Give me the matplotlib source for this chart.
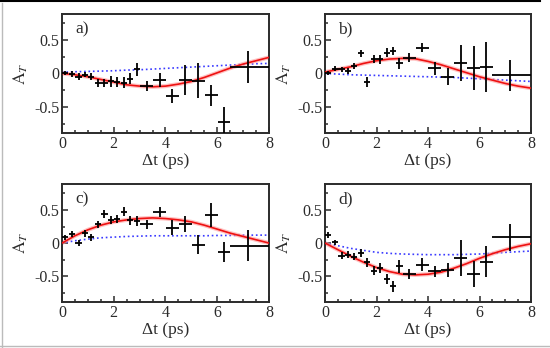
"""
Fire paneler med tidsavhengig asymmetri A_T mot Δt, med tilpasning (rød) og
alternativ modell (blå prikket). Lagres som out.png.
"""

import matplotlib
matplotlib.use("Agg")
import matplotlib.pyplot as plt
from matplotlib.lines import Line2D
from matplotlib.ticker import MultipleLocator

plt.rcParams["font.family"] = ["Liberation Serif", "DejaVu Serif"]
plt.rcParams["mathtext.fontset"] = "stix"

# --- data lest av bildet ---------------------------------------------------
t_pts = [0.13, 0.38, 0.64, 0.89, 1.13, 1.39, 1.64, 1.9, 2.14, 2.4, 2.64, 2.89,
         3.27, 3.77, 4.26, 4.76, 5.27, 5.77, 6.26, 7.2]
t_err_lo = [0.13, 0.12, 0.12, 0.12, 0.12, 0.12, 0.12, 0.12, 0.12, 0.12, 0.12, 0.12,
            0.25, 0.25, 0.25, 0.25, 0.25, 0.25, 0.25, 0.7]
t_err_hi = [0.12, 0.12, 0.12, 0.12, 0.12, 0.12, 0.12, 0.12, 0.12, 0.12, 0.12, 0.12,
            0.25, 0.25, 0.25, 0.25, 0.25, 0.25, 0.25, 0.8]

a_y = [0.0, -0.01, -0.05, -0.02, -0.05, -0.15, -0.15, -0.12, -0.13, -0.14, -0.08, 0.06,
       -0.19, -0.10, -0.34, -0.10, -0.11, -0.33, -0.73, 0.10]
a_e = [0.03, 0.04, 0.05, 0.04, 0.05, 0.06, 0.06, 0.08, 0.08, 0.08, 0.08, 0.1,
       0.07, 0.1, 0.1, 0.22, 0.26, 0.15, 0.23, 0.24]

b_y = [0.0, 0.07, 0.06, 0.035, 0.11, 0.30, -0.13, 0.21, 0.21, 0.31, 0.34, 0.15,
       0.235, 0.385, 0.075, -0.05, 0.16, 0.08, 0.095, -0.03]
b_e = [0.03, 0.04, 0.04, 0.05, 0.05, 0.05, 0.07, 0.06, 0.07, 0.07, 0.06, 0.08,
       0.07, 0.07, 0.1, 0.13, 0.27, 0.33, 0.37, 0.23]

c_y = [0.085, 0.135, 0.0, 0.145, 0.085, 0.285, 0.435, 0.35, 0.36, 0.475, 0.345, 0.335,
       0.285, 0.47, 0.235, 0.285, -0.025, 0.425, -0.14, -0.04]
c_e = [0.04, 0.04, 0.04, 0.05, 0.05, 0.05, 0.06, 0.06, 0.06, 0.07, 0.07, 0.08,
       0.07, 0.08, 0.12, 0.12, 0.14, 0.18, 0.15, 0.23]

d_y = [0.12, 0.01, -0.19, -0.175, -0.205, -0.155, -0.29, -0.415, -0.375, -0.54, -0.655, -0.35,
       -0.465, -0.325, -0.425, -0.405, -0.225, -0.465, -0.28, 0.085]
d_e = [0.04, 0.04, 0.05, 0.05, 0.05, 0.06, 0.07, 0.07, 0.07, 0.08, 0.08, 0.1,
       0.07, 0.1, 0.08, 0.1, 0.27, 0.2, 0.23, 0.2]

# tilpassede kurver, lest av i punkter
t_fit = [0, 0.5, 1, 1.5, 2, 2.5, 3, 3.5, 4, 4.5, 5, 5.5, 6, 6.5, 7, 7.5, 8]
a_fit = [0.0, -0.02, -0.05, -0.09, -0.13, -0.17, -0.19, -0.2, -0.19, -0.16, -0.12,
         -0.06, 0.01, 0.08, 0.14, 0.19, 0.24]
b_fit = [0.02, 0.06, 0.1, 0.15, 0.19, 0.215, 0.225, 0.22, 0.18, 0.13, 0.07,
         0.01, -0.05, -0.1, -0.15, -0.19, -0.22]
c_fit = [0.0, 0.11, 0.2, 0.27, 0.32, 0.35, 0.37, 0.38, 0.37, 0.35, 0.32,
         0.27, 0.21, 0.15, 0.1, 0.05, 0.0]
d_fit = [0.0, -0.1, -0.2, -0.29, -0.37, -0.43, -0.47, -0.48, -0.47, -0.44, -0.38,
         -0.31, -0.23, -0.16, -0.1, -0.05, -0.01]

a_alt = [0.02, 0.025, 0.03, 0.035, 0.04, 0.05, 0.055, 0.065, 0.075, 0.085, 0.095,
         0.105, 0.115, 0.125, 0.135, 0.145, 0.15]
b_alt = [0.0, -0.01, -0.02, -0.025, -0.03, -0.035, -0.04, -0.045, -0.05, -0.055, -0.06,
         -0.07, -0.08, -0.09, -0.1, -0.11, -0.12]
c_alt = [0.0, 0.035, 0.06, 0.08, 0.09, 0.1, 0.105, 0.11, 0.11, 0.11, 0.11,
         0.11, 0.115, 0.115, 0.12, 0.12, 0.12]
d_alt = [0.0, -0.04, -0.08, -0.11, -0.14, -0.155, -0.165, -0.17, -0.175, -0.175, -0.175,
         -0.17, -0.165, -0.155, -0.14, -0.13, -0.12]

panels = [
    ("a)", a_y, a_e, a_fit, a_alt, [0.1127, 0.618, 0.3764, 0.342]),
    ("b)", b_y, b_e, b_fit, b_alt, [0.591, 0.618, 0.3745, 0.342]),
    ("c)", c_y, c_e, c_fit, c_alt, [0.1127, 0.132, 0.3764, 0.339]),
    ("d)", d_y, d_e, d_fit, d_alt, [0.591, 0.132, 0.3745, 0.339]),
]

INK = "#2b2b2b"

fig = plt.figure(figsize=(5.5, 3.48), dpi=100)

for label, ys, es, fit, alt, rect in panels:
    ax = fig.add_axes(rect)
    ax.plot(t_fit, alt, linestyle=":", color="#3a3aff", linewidth=1.2, zorder=2)
    ax.plot(t_fit, fit, color="#ff9a9a", linewidth=3.0, alpha=0.6, zorder=2)
    ax.plot(t_fit, fit, color="#ee1111", linewidth=1.2, zorder=3)
    ax.errorbar(t_pts, ys, yerr=es, xerr=[t_err_lo, t_err_hi], fmt="none",
                ecolor="black", elinewidth=1.3, capsize=0, zorder=4)

    ax.set_xlim(0, 8)
    ax.set_ylim(-0.89, 0.89)
    ax.xaxis.set_major_locator(MultipleLocator(2))
    ax.xaxis.set_minor_locator(MultipleLocator(0.5))
    ax.yaxis.set_minor_locator(MultipleLocator(0.25))
    ax.set_yticks([-0.5, 0, 0.5])
    ax.set_yticklabels(["-0.5", "0", "0.5"])
    ax.tick_params(which="both", direction="in", top=False, right=False,
                   labelsize=11.5, colors=INK, pad=2)
    ax.tick_params(which="major", length=4, width=1.1)
    ax.tick_params(which="minor", length=2, width=1.1)
    for sp in ax.spines.values():
        sp.set_linewidth(1.4)
        sp.set_color(INK)

    ax.set_xlabel("Δt (ps)", fontsize=12.5, color=INK, labelpad=1)
    ax.set_ylabel(r"$\mathrm{A}_T$", fontsize=12.5, color=INK, labelpad=3)
    ax.text(0.065, 0.94, label, transform=ax.transAxes, fontsize=12.5,
            color=INK, va="top", ha="left")

# ramme rundt hele bildet
fig.add_artist(Line2D([0, 540 / 550], [0.998, 0.998], color="black", linewidth=1.5))
fig.add_artist(Line2D([0.004, 0.004], [0.0, 0.99], color="#bbbbbb", linewidth=1))
fig.add_artist(Line2D([0.0, 1.0], [0.005, 0.005], color="#bbbbbb", linewidth=1))

fig.savefig("out.png", dpi=100, facecolor="white")
